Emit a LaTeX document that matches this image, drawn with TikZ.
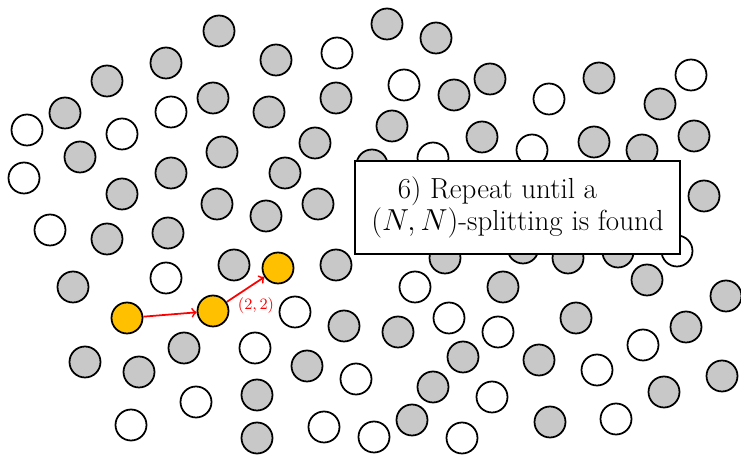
\documentclass[tikz,border=0pt]{standalone}
\usepackage{tikz}
\usepackage{amsmath}

\definecolor{vertexgray}{RGB}{200,200,200}
\definecolor{pathorange}{RGB}{255,192,0}

\begin{document}
\begin{tikzpicture}[
    x=0.02cm, y=-0.02cm,
    vertex/.style={
        circle,
        draw=black,
        line width=1pt,
        minimum size=0.62cm,
        inner sep=0pt
    },
    grayvertex/.style={vertex, fill=vertexgray},
    whitevertex/.style={vertex, fill=white},
    pathvertex/.style={vertex, fill=pathorange},
    box/.style={
        rectangle,
        draw=black,
        line width=1.1pt,
        fill=white,
        minimum width=6.5cm,
        minimum height=1.86cm,
        align=center,
        font=\fontsize{16.5pt}{18.2pt}\selectfont,
        inner sep=4pt
    },
    arrow/.style={->, red, line width=1pt}
]
\useasboundingbox (0,0) rectangle (741,455);

% gray vertices
\foreach \x/\y [count=\i] in {
    219/31, 387/24, 436/38, 166/63, 276/60, 107/81, 490/79, 599/78,
    65/113, 213/98, 269/112, 336/98, 454/95, 660/104,
    80/157, 222/152, 315/143, 392/126, 482/137, 594/142, 694/136,
    122/194, 171/173, 285/173, 372/165, 642/150, 704/196,
    217/204, 318/204, 266/216, 107/239, 168/233,
    73/287, 234/265, 336/265, 445/258, 523/248, 568/258, 618/252,
    503/287, 647/280, 726/296, 576/318, 686/327,
    85/362, 139/372, 184/348, 344/326, 398/332, 307/366, 463/357,
    539/360, 722/376, 433/387, 257/395, 664/392, 412/420, 550/422, 257/438}
    \node[grayvertex] (g\i) at (\x,\y) {};

% white vertices
\foreach \x/\y [count=\i] in {
    337/53, 404/85, 549/99, 691/75, 171/112, 27/130, 122/134, 24/178,
    433/158, 532/150, 50/230, 166/278, 415/287, 677/251,
    295/312, 449/318, 498/332, 255/348, 643/345,
    356/379, 597/370, 196/402, 492/397,
    131/425, 324/427, 374/437, 462/438, 616/419}
    \node[whitevertex] (w\i) at (\x,\y) {};

% splitting path
\node[pathvertex] (start) at (127,318) {};
\node[pathvertex] (mid) at (213,311) {};
\node[pathvertex] (goal) at (278,268) {};

\node[box] (repeat) at (517.5,207.5) {
6) Repeat until a\hspace*{22.8pt}\\
$(N,N)$-splitting is found
};

\draw[arrow] (start) -- (mid);
\draw[arrow] (mid) -- (goal);
\node[red, font=\small, inner sep=1pt] (deg) at (256,306) {$(2,2)$};

\end{tikzpicture}
\end{document}
